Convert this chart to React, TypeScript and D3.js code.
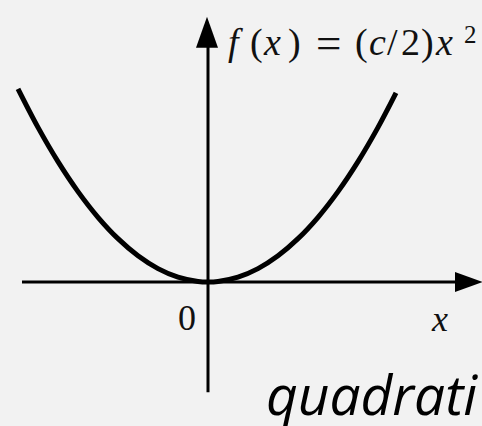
import React from "react";
import * as d3 from "d3";

// Function parameter and sampled x values for f(x) = (c/2) x^2
const cParam = 1;
const curveXs = [-1.9, -1.7, -1.5, -1.3, -1.1, -0.9, -0.7, -0.5, -0.3, -0.1, 0, 0.1, 0.3, 0.5, 0.7, 0.9, 1.1, 1.3, 1.5, 1.7, 1.88];
const xAxisExtent = [-1.86, 2.75];
const yAxisExtent = [-1.03, 2.48];
const tickLabels = ["0"];
const axisLabel = "x";
const caption = "quadrati";

const W = 482;
const H = 426;

export default function App() {
  const x = d3.scaleLinear().domain([-2.08, 2.74]).range([0, W]);
  const y = d3.scaleLinear().domain([-1.346, 2.636]).range([H, 0]);
  const f = (v: number) => (cParam / 2) * v * v;
  const pts: [number, number][] = curveXs.map((v) => [v, f(v)]);
  const line = d3
    .line<[number, number]>()
    .x((d) => x(d[0]))
    .y((d) => y(d[1]))
    .curve(d3.curveCatmullRom.alpha(0.5));

  const x0 = x(0);
  const y0 = y(0);
  const xTip = x(xAxisExtent[1]);
  const yTip = y(yAxisExtent[1]);
  const serif = "'Liberation Serif', 'DejaVu Serif', serif";
  const fs = 38;
  const base = 55;

  return (
    <div style={{ position: "fixed", left: 0, top: 0, width: W, height: H, background: "#f2f2f2" }}>
      <svg width={W} height={H} style={{ display: "block" }}>
        <rect width={W} height={H} fill="#f2f2f2" />
        {/* x axis */}
        <line x1={x(xAxisExtent[0])} x2={xTip - 20} y1={y0} y2={y0} stroke="#000" strokeWidth={3} />
        <path d={`M${xTip},${y0} L${xTip - 28},${y0 - 10} L${xTip - 28},${y0 + 10} Z`} fill="#000" />
        {/* y axis */}
        <line x1={x0} x2={x0} y1={y(yAxisExtent[0])} y2={yTip + 20} stroke="#000" strokeWidth={3} />
        <path d={`M${x0 - 1},${yTip} L${x0 - 12},${yTip + 31} L${x0 + 10},${yTip + 31} Z`} fill="#000" />
        {/* curve */}
        <path d={line(pts) || ""} fill="none" stroke="#000" strokeWidth={5} strokeLinecap="butt" />
        {/* function label: f(x) = (c/2)x^2 */}
        <g fontFamily={serif} fill="#111" fontSize={fs}>
          <text x={228} y={base} fontStyle="italic">f</text>
          <text x={250} y={base}>(</text>
          <text x={264} y={base} fontStyle="italic">x</text>
          <text x={288} y={base}>)</text>
          <text x={316} y={base + 3} fontSize={45}>=</text>
          <text x={355} y={base}>(</text>
          <text x={369} y={base} fontStyle="italic">c</text>
          <text x={387} y={base}>/</text>
          <text x={401} y={base}>2</text>
          <text x={421} y={base}>)</text>
          <text x={436} y={base} fontStyle="italic">x</text>
          <text x={464} y={base - 12} fontSize={25}>2</text>
        </g>
        {/* tick label */}
        <text x={x0 - 12} y={330} textAnchor="end" fontFamily={serif} fontSize={36} fill="#111">
          {tickLabels[0]}
        </text>
        {/* axis label */}
        <text x={432} y={331} fontFamily={serif} fontStyle="italic" fontSize={36} fill="#111">
          {axisLabel}
        </text>
        {/* caption */}
        <text x={266} y={415} fontFamily="'Open Sans', sans-serif" fontStyle="italic" fontSize={55} fill="#000">
          {caption}
        </text>
      </svg>
    </div>
  );
}
